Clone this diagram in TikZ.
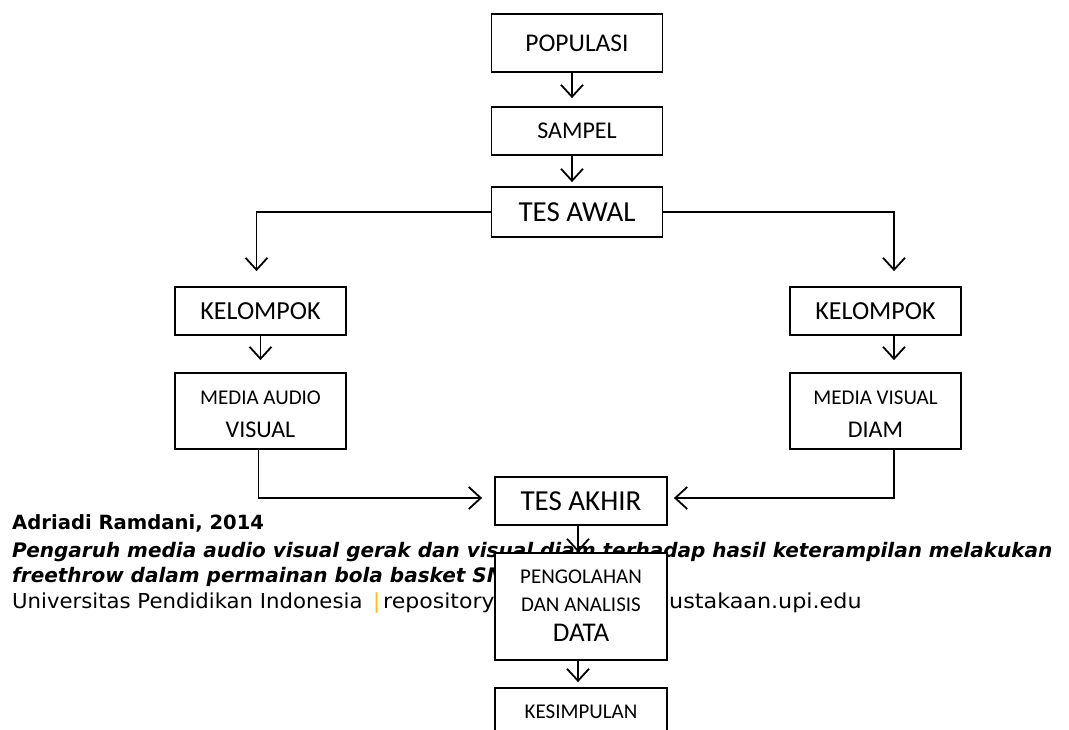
\documentclass[tikz,border=0pt]{standalone}
\usepackage{fontspec}
\setmainfont{Carlito}
\newfontfamily\footfont{DejaVu Sans}
\usetikzlibrary{arrows.meta}
\definecolor{upigold}{HTML}{FFC000}
\begin{document}
\begin{tikzpicture}[x=1pt,y=-1pt,
  box/.style={draw, line width=1.8pt, fill=white, inner sep=0pt, align=center},
  conn/.style={line width=1.8pt, -{Straight Barb[length=12pt,width=22pt]}},
  foot/.style={anchor=base west, inner sep=0pt, font=\footfont\fontsize{#1}{#1}\selectfont},
  foot/.default=20.5,
  fs/.style={font=\fontsize{#1}{#1}\selectfont},
  lbl/.style={inner sep=0pt, font=\fontsize{#1}{#1}\selectfont}]
\useasboundingbox (0,0) rectangle (1069,729);
\clip (0,0) rectangle (1069,729);
\fill[white] (0,0) rectangle (1069,729);
% footer text (drawn first, boxes cover it)
\node[foot=19.6] (f1) at (12,529) {\bfseries Adriadi Ramdani, 2014};
\node[foot=20] (f2) at (12,557) {\bfseries\itshape Pengaruh media audio visual gerak dan visual diam terhadap hasil keterampilan melakukan};
\node[foot=20] (f3) at (12,582) {\bfseries\itshape freethrow dalam permainan bola basket SMA};
\node[foot=20.6] (f4) at (12,608) {\scalebox{1.03}[1]{Universitas Pendidikan Indonesia}};
\node[foot=20.6] (f5) at (373,608) {\textcolor{upigold}{|}};
\node[foot=20.6] (f6) at (383,608) {\scalebox{1.07}[1]{repository}};
\node[foot=20.6] (f7) at (669,608) {\scalebox{1.08}[1]{ustakaan.upi.edu}};
% boxes
\node[box, minimum width=171, minimum height=58, fs=25.5] (pop) at (577,43) {POPULASI};
\node[box, minimum width=171, minimum height=48, fs=24] (sam) at (577,131) {SAMPEL};
\node[box, minimum width=171, minimum height=50, fs=29] (awal) at (577,212) {TES AWAL};
\node[box, minimum width=171, minimum height=48, fs=26] (k1) at (260.5,311) {KELOMPOK};
\node[box, minimum width=171, minimum height=76] (m1) at (260.5,411) {};
\node[lbl=21] (m1a) at (m1.center) [yshift=13.5pt] {MEDIA AUDIO};
\node[lbl=24] (m1b) at (m1.center) [yshift=-19pt] {VISUAL};
\node[box, minimum width=171, minimum height=48, fs=26] (k2) at (875.5,311) {KELOMPOK};
\node[box, minimum width=171, minimum height=76] (m2) at (875.5,411) {};
\node[lbl=21] (m2a) at (m2.center) [yshift=13.5pt] {MEDIA VISUAL};
\node[lbl=24] (m2b) at (m2.center) [yshift=-19pt] {DIAM};
\node[box, minimum width=172, minimum height=48, fs=29] (akhir) at (581,501) {TES AKHIR};
\node[box, minimum width=172, minimum height=107] (olah) at (581,606.5) {};
\node[lbl=21] (o1) at (581,577) {PENGOLAHAN};
\node[lbl=21] (o2) at (581,605) {DAN ANALISIS};
\node[lbl=27] (o3) at (581,633) {DATA};
\node[box, minimum width=172, minimum height=48, fs=21] (kes) at (581,712) {KESIMPULAN};
% connectors
\draw[conn, shorten >=8pt] ([xshift=-5pt]pop.south) -- ([xshift=-5pt]sam.north);
\draw[conn, shorten >=4pt] ([xshift=-5pt]sam.south) -- ([xshift=-5pt]awal.north);
\draw[conn, shorten >=15pt] (awal.west) -| ([xshift=-4pt]k1.north);
\draw[conn, shorten >=15pt] (awal.east) -| ([xshift=18.5pt]k2.north);
\draw[conn, shorten >=12pt] (k1) -- (m1);
\draw[conn, shorten >=12pt] ([xshift=18.5pt]k2.south) -- ([xshift=18.5pt]m2.north);
\draw[conn, shorten >=12pt] ([xshift=-2pt]m1.south) |- ([yshift=3pt]akhir.west);
\draw[conn, shorten >=6pt] ([xshift=18.5pt]m2.south) |- ([yshift=3pt]akhir.east);
\draw[conn] ([xshift=-3pt]akhir.south) -- ([xshift=-3pt]olah.north);
\draw[conn, shorten >=5pt] ([xshift=-3pt]olah.south) -- ([xshift=-3pt]kes.north);
\end{tikzpicture}
\end{document}
